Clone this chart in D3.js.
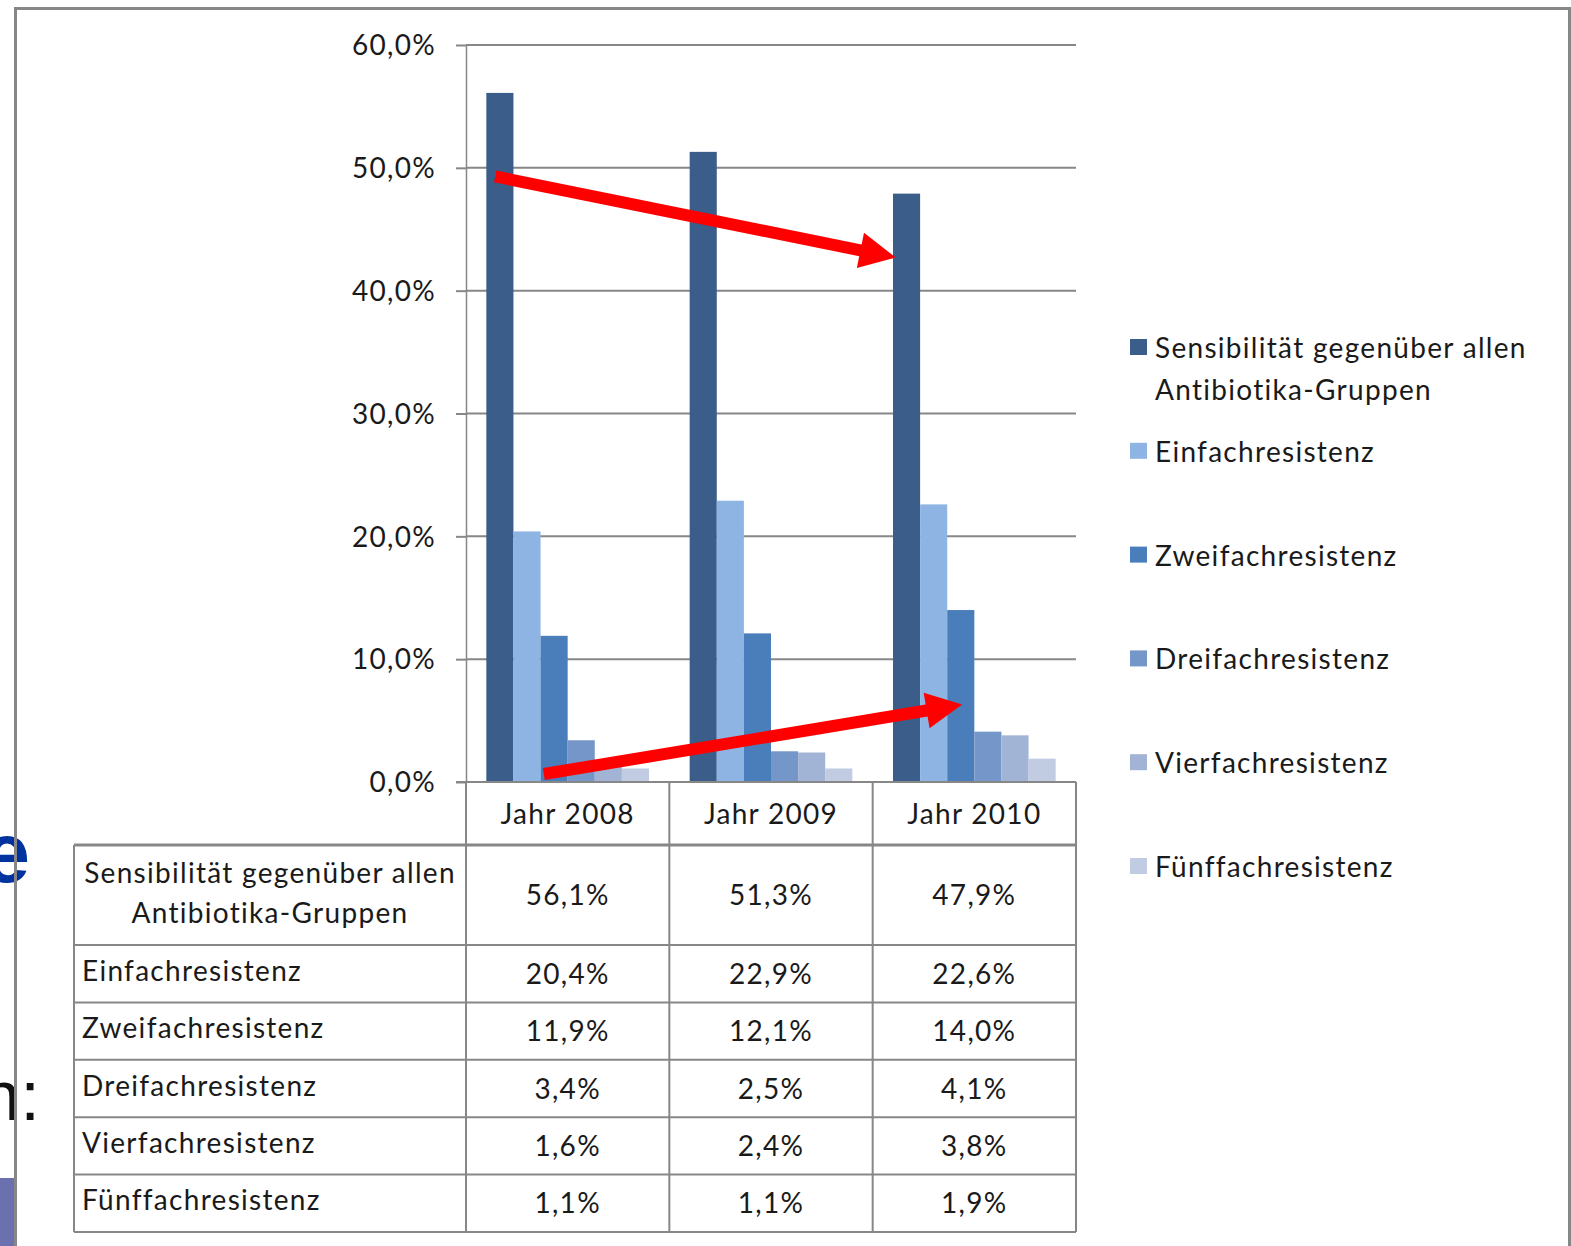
<!DOCTYPE html>
<html>
<head>
<meta charset="utf-8">
<script src="https://cdn.jsdelivr.net/npm/d3@7"></script>
<style>
  html, body { margin: 0; padding: 0; background: #fff; }
  svg { display: block; }
  .lbl { font-family: Lato, "Open Sans", sans-serif; font-size: 28px; fill: #1a1a1a; letter-spacing: 1.3px; }
</style>
</head>
<body>
<svg id="chart" width="1571" height="1246"></svg>
<script>
// ---- data ----
const years = ["Jahr 2008", "Jahr 2009", "Jahr 2010"];
const seriesNames = [
  ["Sensibilität gegenüber allen", "Antibiotika-Gruppen"],
  ["Einfachresistenz"],
  ["Zweifachresistenz"],
  ["Dreifachresistenz"],
  ["Vierfachresistenz"],
  ["Fünffachresistenz"]
];
const sensibilitaet = [56.1, 51.3, 47.9];
const einfach       = [20.4, 22.9, 22.6];
const zweifach      = [11.9, 12.1, 14.0];
const dreifach      = [3.4, 2.5, 4.1];
const vierfach      = [1.6, 2.4, 3.8];
const fuenffach     = [1.1, 1.1, 1.9];
const seriesValues = [sensibilitaet, einfach, zweifach, dreifach, vierfach, fuenffach];
const seriesColors = ["#3a5d8a", "#8eb4e3", "#4a7ebb", "#7596c8", "#a2b4d5", "#c1cce2"];
const yTicks = [0, 10, 20, 30, 40, 50, 60];

// trend arrows: anchored to a bar (series index, fraction across the bar) and a value level
const trendArrows = [
  { from: { year: "Jahr 2008", s: 0, f: 0.33, v: 49.3 }, to: { year: "Jahr 2010", s: 0, f: 0.1, v: 42.7 } },
  { from: { year: "Jahr 2008", s: 2, f: 0.12, v: 0.65 }, to: { year: "Jahr 2010", s: 2, f: 0.55, v: 6.3 } }
];

// ---- layout ----
const svg = d3.select("#chart");
const plotL = 466, plotR = 1076, plotT = 45, plotB = 782;
const tableL = 74, catRowB = 845, firstRowB = 945, tableB = 1232;
const gridColor = "#878787";

const fmt = v => d3.format(".1f")(v).replace(".", ",") + "%";

const y = d3.scaleLinear().domain([0, 60]).range([plotB, plotT]);
const x = d3.scaleBand().domain(years).range([plotL, plotR]);
const xs = d3.scaleBand().domain(d3.range(seriesValues.length))
  .range([0, x.bandwidth()]).paddingOuter(0.75).paddingInner(0);

// slide content peeking out at the left edge
svg.append("text").attr("x", 30).attr("y", 882).attr("text-anchor", "end")
  .attr("font-family", "Liberation Sans, Arial, sans-serif").attr("font-weight", "bold")
  .attr("font-size", 85).attr("fill", "#0033a0").text("e");
svg.append("text").attr("x", 40).attr("y", 1120).attr("text-anchor", "end")
  .attr("font-family", "Liberation Sans, Arial, sans-serif")
  .attr("font-size", 71).attr("fill", "#111").text("n:");
svg.append("rect").attr("x", 0).attr("y", 1178).attr("width", 15).attr("height", 68).attr("fill", "#6b70ae");

// gridlines
svg.append("g").selectAll("line").data(yTicks.filter(t => t > 0)).join("line")
  .attr("x1", plotL).attr("x2", plotR)
  .attr("y1", d => y(d)).attr("y2", d => y(d))
  .attr("stroke", gridColor).attr("stroke-width", 2);

// bars
const barG = svg.append("g");
seriesValues.forEach((vals, si) => {
  barG.append("g").selectAll("rect").data(vals).join("rect")
    .attr("x", (d, i) => x(years[i]) + xs(si))
    .attr("y", d => y(d))
    .attr("width", xs.bandwidth())
    .attr("height", d => y(0) - y(d))
    .attr("fill", seriesColors[si]);
});

// y axis
const yAxis = svg.append("g").attr("transform", `translate(${plotL},0)`)
  .call(d3.axisLeft(y).tickValues(yTicks).tickSize(10).tickSizeOuter(0).tickPadding(20).tickFormat(fmt));
yAxis.select(".domain").attr("stroke", gridColor).attr("stroke-width", 1.5);
yAxis.selectAll(".tick line").attr("stroke", gridColor).attr("stroke-width", 2);
yAxis.selectAll(".tick text").attr("class", "lbl").attr("font-size", null).attr("font-family", null)
  .attr("dy", "0.35em");

// x axis baseline
svg.append("line").attr("x1", plotL - 10).attr("x2", plotR).attr("y1", plotB).attr("y2", plotB)
  .attr("stroke", gridColor).attr("stroke-width", 2);

// data table
const rowH = (tableB - firstRowB) / 5;
const rowTops = [catRowB, firstRowB];
for (let i = 1; i <= 5; i++) rowTops.push(firstRowB + rowH * i);
const tbl = svg.append("g");
// horizontal rules
tbl.selectAll("line.h").data(rowTops).join("line").attr("class", "h")
  .attr("x1", tableL).attr("x2", plotR)
  .attr("y1", d => d).attr("y2", d => d)
  .attr("stroke", gridColor).attr("stroke-width", (d, i) => i === 0 ? 3 : 2);
// vertical rules at category borders
const colEdges = years.map(yr => x(yr)).concat([plotR]);
tbl.selectAll("line.v").data(colEdges).join("line").attr("class", "v")
  .attr("x1", d => d).attr("x2", d => d).attr("y1", plotB).attr("y2", tableB)
  .attr("stroke", gridColor).attr("stroke-width", 2);
tbl.append("line").attr("x1", tableL).attr("x2", tableL).attr("y1", catRowB).attr("y2", tableB)
  .attr("stroke", gridColor).attr("stroke-width", 2);

// category labels
tbl.selectAll("text.cat").data(years).join("text").attr("class", "lbl cat")
  .attr("x", d => x(d) + x.bandwidth() / 2).attr("y", (plotB + catRowB) / 2 - 1)
  .attr("text-anchor", "middle").attr("dominant-baseline", "central").text(d => d);

// row labels and values
seriesNames.forEach((name, si) => {
  const top = rowTops[si], bot = rowTops[si + 1];
  const cy = (top + bot) / 2;
  if (name.length > 1) {
    name.forEach((line, li) => {
      tbl.append("text").attr("class", "lbl")
        .attr("x", (tableL + plotL) / 2).attr("y", cy + (li - 0.5) * 40 - 3)
        .attr("text-anchor", "middle").attr("dominant-baseline", "central").text(line);
    });
  } else {
    tbl.append("text").attr("class", "lbl")
      .attr("x", tableL + 8).attr("y", cy - 4)
      .attr("dominant-baseline", "central").text(name[0]);
  }
  tbl.append("g").selectAll("text").data(seriesValues[si]).join("text").attr("class", "lbl")
    .attr("x", (d, i) => x(years[i]) + x.bandwidth() / 2).attr("y", cy - 1)
    .attr("text-anchor", "middle").attr("dominant-baseline", "central").text(d => fmt(d));
});

// legend
const legX = 1130, legY0 = 347, legStep = 103.8;
const leg = svg.append("g");
seriesNames.forEach((name, si) => {
  const cy = legY0 + si * legStep;
  leg.append("rect").attr("x", legX).attr("y", cy - 8).attr("width", 17).attr("height", 16)
    .attr("fill", seriesColors[si]);
  name.forEach((line, li) => {
    leg.append("text").attr("class", "lbl").attr("x", legX + 25).attr("y", cy + li * 42)
      .attr("dominant-baseline", "central").text(line);
  });
});

// trend arrows
const px = a => x(a.year) + xs(a.s) + a.f * xs.bandwidth();
const py = a => y(a.v);
function arrowPath(x0, y0, x1, y1, shaft, headL, headW) {
  const dx = x1 - x0, dy = y1 - y0, len = Math.hypot(dx, dy);
  const ux = dx / len, uy = dy / len, nx = -uy, ny = ux;
  const bx = x1 - ux * headL, by = y1 - uy * headL;
  const p = [
    [x0 + nx * shaft / 2, y0 + ny * shaft / 2],
    [bx + nx * shaft / 2, by + ny * shaft / 2],
    [bx + nx * headW / 2, by + ny * headW / 2],
    [x1, y1],
    [bx - nx * headW / 2, by - ny * headW / 2],
    [bx - nx * shaft / 2, by - ny * shaft / 2],
    [x0 - nx * shaft / 2, y0 - ny * shaft / 2]
  ];
  return "M" + p.map(q => q.join(",")).join("L") + "Z";
}
svg.append("g").selectAll("path").data(trendArrows).join("path")
  .attr("d", a => arrowPath(px(a.from), py(a.from), px(a.to), py(a.to), 12, 36, 36))
  .attr("fill", "#ff0000");

// outer frame
svg.append("path").attr("d", "M15.5,1246 L15.5,8.5 L1569.5,8.5 L1569.5,1246")
  .attr("fill", "none").attr("stroke", gridColor).attr("stroke-width", 3);
</script>
</body>
</html>
